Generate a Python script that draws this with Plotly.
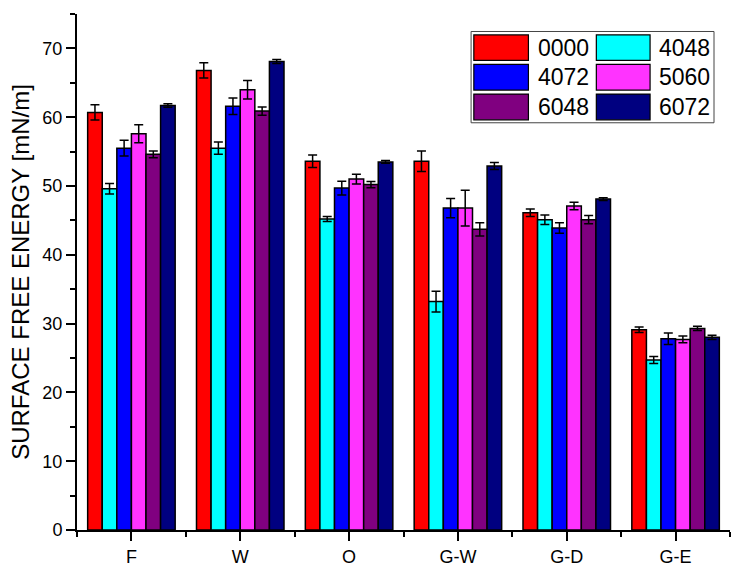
import plotly.graph_objects as go

categories = ["F", "W", "O", "G-W", "G-D", "G-E"]
series_names = ["0000", "4048", "4072", "5060", "6048", "6072"]
colors = ["#FF0000", "#00FFFF", "#0000FF", "#FF33FF", "#800080", "#000080"]

values = {
    "0000": [60.7, 66.8, 53.6, 53.6, 46.1, 29.1],
    "4048": [49.6, 55.5, 45.2, 33.2, 45.1, 24.7],
    "4072": [55.5, 61.6, 49.7, 46.8, 43.9, 27.8],
    "5060": [57.6, 64.0, 51.0, 46.8, 47.1, 27.7],
    "6048": [54.6, 60.9, 50.2, 43.7, 45.1, 29.3],
    "6072": [61.7, 68.1, 53.5, 52.9, 48.1, 28.0],
}
errors = {
    "0000": [1.1, 1.1, 0.9, 1.5, 0.55, 0.4],
    "4048": [0.75, 0.9, 0.35, 1.5, 0.7, 0.5],
    "4072": [1.15, 1.2, 1.0, 1.4, 0.75, 0.85],
    "5060": [1.3, 1.35, 0.7, 2.6, 0.55, 0.5],
    "6048": [0.5, 0.6, 0.45, 0.95, 0.6, 0.3],
    "6072": [0.25, 0.3, 0.2, 0.5, 0.2, 0.3],
}

FONT = "Liberation Sans, Arial, sans-serif"
xpos = list(range(len(categories)))

fig = go.Figure()
for name, col in zip(series_names, colors):
    fig.add_trace(go.Bar(
        x=xpos, y=values[name], name=name,
        marker=dict(color=col, line=dict(color="black", width=1.5)),
        error_y=dict(type="data", array=errors[name], visible=True,
                     color="black", thickness=1.5, width=4.5),
        showlegend=False,
    ))

# custom legend (large swatches like the original)
shapes = []
annotations = []
legend_box = dict(type="rect", xref="paper", yref="paper",
                  x0=0.6035, x1=0.9755, y0=0.7892, y1=0.9661,
                  line=dict(color="#444", width=1), fillcolor="white", layer="above")
shapes.append(legend_box)
col_x = [(0.6077, 0.6913, 0.7031), (0.7953, 0.8776, 0.8887)]
row_y = [(0.9103, 0.9595), (0.8525, 0.9023), (0.7950, 0.8448)]
for i, (name, col) in enumerate(zip(series_names, colors)):
    r, c = divmod(i, 2)
    sx0, sx1, tx = col_x[c]
    y0, y1 = row_y[r]
    shapes.append(dict(type="rect", xref="paper", yref="paper",
                       x0=sx0, x1=sx1, y0=y0, y1=y1,
                       line=dict(color="black", width=1.2), fillcolor=col, layer="above"))
    annotations.append(dict(xref="paper", yref="paper", x=tx, y=(y0 + y1) / 2,
                            text=name, showarrow=False, xanchor="left", yanchor="middle",
                            font=dict(family=FONT, size=23, color="black")))

fig.update_layout(
    width=742, height=579,
    margin=dict(l=77, r=12, t=14, b=43),
    paper_bgcolor="white", plot_bgcolor="white",
    barmode="group", bargap=0.196, bargroupgap=0,
    font=dict(family=FONT, color="black"),
    shapes=shapes, annotations=annotations,
    xaxis=dict(
        range=[-0.5, 5.5], tickmode="array", tickvals=xpos, ticktext=categories,
        ticks="outside", ticklen=9, tickwidth=2, tickcolor="black",
        showline=True, linewidth=2, linecolor="black", showgrid=False, zeroline=False,
        tickfont=dict(family=FONT, size=18, color="black"),
        minor=dict(tickmode="linear", tick0=0.5, dtick=1, ticks="outside",
                   ticklen=5, tickwidth=2, tickcolor="black", showgrid=False),
    ),
    yaxis=dict(
        range=[0, 75], tickmode="linear", tick0=0, dtick=10,
        ticks="outside", ticklen=9, tickwidth=2, tickcolor="black",
        showline=True, linewidth=2, linecolor="black", showgrid=False, zeroline=False,
        tickfont=dict(family=FONT, size=18, color="black"),
        minor=dict(tickmode="linear", tick0=5, dtick=10, ticks="outside",
                   ticklen=5, tickwidth=2, tickcolor="black", showgrid=False),
        title=dict(text="SURFACE FREE ENERGY [mN/m]", standoff=6,
                   font=dict(family=FONT, size=24, color="black")),
    ),
    xaxis2=dict(
        overlaying="x", side="top", anchor="y", range=[-0.5, 5.5],
        tickmode="array", tickvals=xpos, showticklabels=False,
        ticks="inside", ticklen=9, tickwidth=2, tickcolor="black",
        showline=True, linewidth=2, linecolor="black", showgrid=False, zeroline=False,
        minor=dict(tickmode="linear", tick0=0.5, dtick=1, ticks="inside",
                   ticklen=5, tickwidth=2, tickcolor="black", showgrid=False),
    ),
    yaxis2=dict(
        overlaying="y", side="right", anchor="x", range=[0, 75],
        tickmode="linear", tick0=0, dtick=10, showticklabels=False,
        ticks="inside", ticklen=9, tickwidth=2, tickcolor="black",
        showline=True, linewidth=2, linecolor="black", showgrid=False, zeroline=False,
        minor=dict(tickmode="linear", tick0=5, dtick=10, ticks="inside",
                   ticklen=5, tickwidth=2, tickcolor="black", showgrid=False),
    ),
)

fig.write_html("out.html")
